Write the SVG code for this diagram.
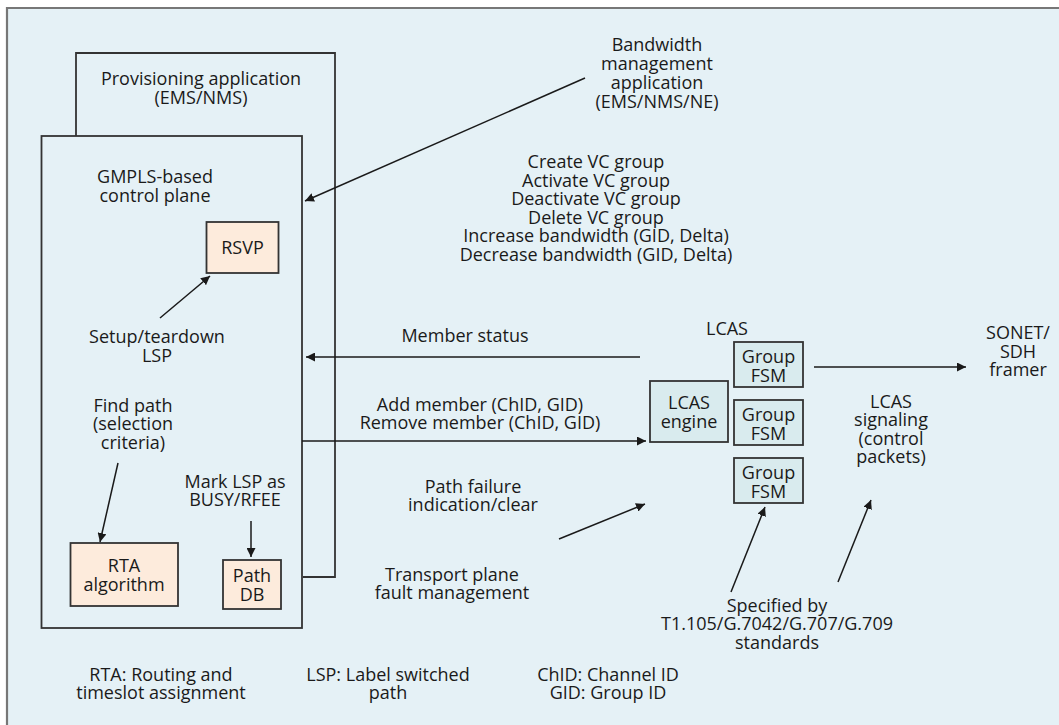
<svg xmlns="http://www.w3.org/2000/svg" width="1059" height="725" viewBox="0 0 1059 725">
<defs>
<style>
text{font-family:"Open Sans","Noto Sans","Liberation Sans",sans-serif;font-size:18px;fill:#1a1a1a;text-anchor:middle}
.ln{stroke:#1a1a1a;stroke-width:1.5;fill:none}
.frame{stroke:#333;stroke-width:1.8;fill:none}
.peach{fill:#fdebdc;stroke:#333;stroke-width:1.8}
.teal{fill:#d9ebee;stroke:#333;stroke-width:1.8}
</style>
<marker id="ah" viewBox="0 0 10 10" refX="10" refY="5" markerWidth="9" markerHeight="9" markerUnits="userSpaceOnUse" orient="auto">
<path d="M0,0 L10,5 L0,10 z" fill="#1a1a1a"/>
</marker>
</defs>
<rect x="0" y="0" width="1059" height="725" fill="#ffffff"/>
<rect x="7" y="8" width="1052" height="717" fill="#e5f1f6"/>
<path d="M7,725 V8 H1059" stroke="#777" stroke-width="2.2" fill="none"/>

<g id="provisioning">
<path class="frame" d="M76,136 V53 H335 V577 H303"/>
<text x="201" y="85">Provisioning application</text>
<text x="201" y="104">(EMS/NMS)</text>
</g>

<g id="gmpls">
<rect class="frame" x="41.5" y="136" width="260.5" height="492"/>
<text x="155" y="183">GMPLS-based</text>
<text x="155" y="202">control plane</text>
</g>

<g id="rsvp">
<rect class="peach" x="206.5" y="222" width="72" height="51"/>
<text x="242.5" y="254">RSVP</text>
</g>

<g id="rta">
<rect class="peach" x="70.5" y="543" width="107.5" height="63"/>
<text x="124" y="572">RTA</text>
<text x="124" y="591">algorithm</text>
</g>

<g id="pathdb">
<rect class="peach" x="223" y="560" width="58" height="49"/>
<text x="252" y="582">Path</text>
<text x="252" y="601">DB</text>
</g>

<g id="bandwidth">
<text x="657" y="51">Bandwidth</text>
<text x="657" y="70">management</text>
<text x="657" y="89">application</text>
<text x="657" y="108">(EMS/NMS/NE)</text>
</g>

<g id="vc-ops">
<text x="596" y="168">Create VC group</text>
<text x="596" y="187">Activate VC group</text>
<text x="596" y="205">Deactivate VC group</text>
<text x="596" y="224">Delete VC group</text>
<text x="596" y="242">Increase bandwidth (GID, Delta)</text>
<text x="596" y="261">Decrease bandwidth (GID, Delta)</text>
</g>

<g id="lcas-engine">
<rect class="teal" x="650" y="381" width="78" height="61"/>
<text x="689" y="409">LCAS</text>
<text x="689" y="428">engine</text>
</g>

<g id="lcas-label">
<text x="727" y="335">LCAS</text>
</g>

<g id="fsm1">
<rect class="teal" x="734" y="342" width="69" height="45"/>
<text x="768.5" y="363">Group</text>
<text x="768.5" y="382">FSM</text>
</g>
<g id="fsm2">
<rect class="teal" x="734" y="400" width="69" height="45"/>
<text x="768.5" y="421">Group</text>
<text x="768.5" y="440">FSM</text>
</g>
<g id="fsm3">
<rect class="teal" x="734" y="458" width="69" height="45"/>
<text x="768.5" y="479">Group</text>
<text x="768.5" y="498">FSM</text>
</g>

<g id="sonet">
<text x="1018" y="339">SONET/</text>
<text x="1018" y="358">SDH</text>
<text x="1018" y="376">framer</text>
</g>

<g id="labels">
<text x="157" y="343">Setup/teardown</text>
<text x="157" y="362">LSP</text>
<text x="133" y="412">Find path</text>
<text x="133" y="430">(selection</text>
<text x="133" y="449">criteria)</text>
<text x="235" y="488">Mark LSP as</text>
<text x="235" y="506">BUSY/RFEE</text>
<text x="465" y="342">Member status</text>
<text x="480" y="411">Add member (ChID, GID)</text>
<text x="480" y="429">Remove member (ChID, GID)</text>
<text x="473" y="493">Path failure</text>
<text x="473" y="511">indication/clear</text>
<text x="452" y="581">Transport plane</text>
<text x="452" y="599">fault management</text>
<text x="891" y="408">LCAS</text>
<text x="891" y="426">signaling</text>
<text x="891" y="445">(control</text>
<text x="891" y="463">packets)</text>
<text x="777" y="612">Specified by</text>
<text x="777" y="630">T1.105/G.7042/G.707/G.709</text>
<text x="777" y="649">standards</text>
<text x="161" y="681">RTA: Routing and</text>
<text x="161" y="699">timeslot assignment</text>
<text x="388" y="681">LSP: Label switched</text>
<text x="388" y="699">path</text>
<text x="608" y="681">ChID: Channel ID</text>
<text x="608" y="699">GID: Group ID</text>
</g>

<g id="connectors">
<line class="ln" x1="585" y1="78" x2="305" y2="201" marker-end="url(#ah)"/>
<line class="ln" x1="160" y1="318" x2="210" y2="276" marker-end="url(#ah)"/>
<line class="ln" x1="640" y1="357" x2="306" y2="357" marker-end="url(#ah)"/>
<line class="ln" x1="302" y1="441" x2="646" y2="441" marker-end="url(#ah)"/>
<line class="ln" x1="118" y1="463" x2="100" y2="542" marker-end="url(#ah)"/>
<line class="ln" x1="251" y1="521" x2="251" y2="557" marker-end="url(#ah)"/>
<line class="ln" x1="814" y1="367" x2="966" y2="367" marker-end="url(#ah)"/>
<line class="ln" x1="559" y1="539" x2="645" y2="504" marker-end="url(#ah)"/>
<line class="ln" x1="731" y1="592" x2="765" y2="507" marker-end="url(#ah)"/>
<line class="ln" x1="838" y1="582" x2="871" y2="500" marker-end="url(#ah)"/>
</g>
</svg>
